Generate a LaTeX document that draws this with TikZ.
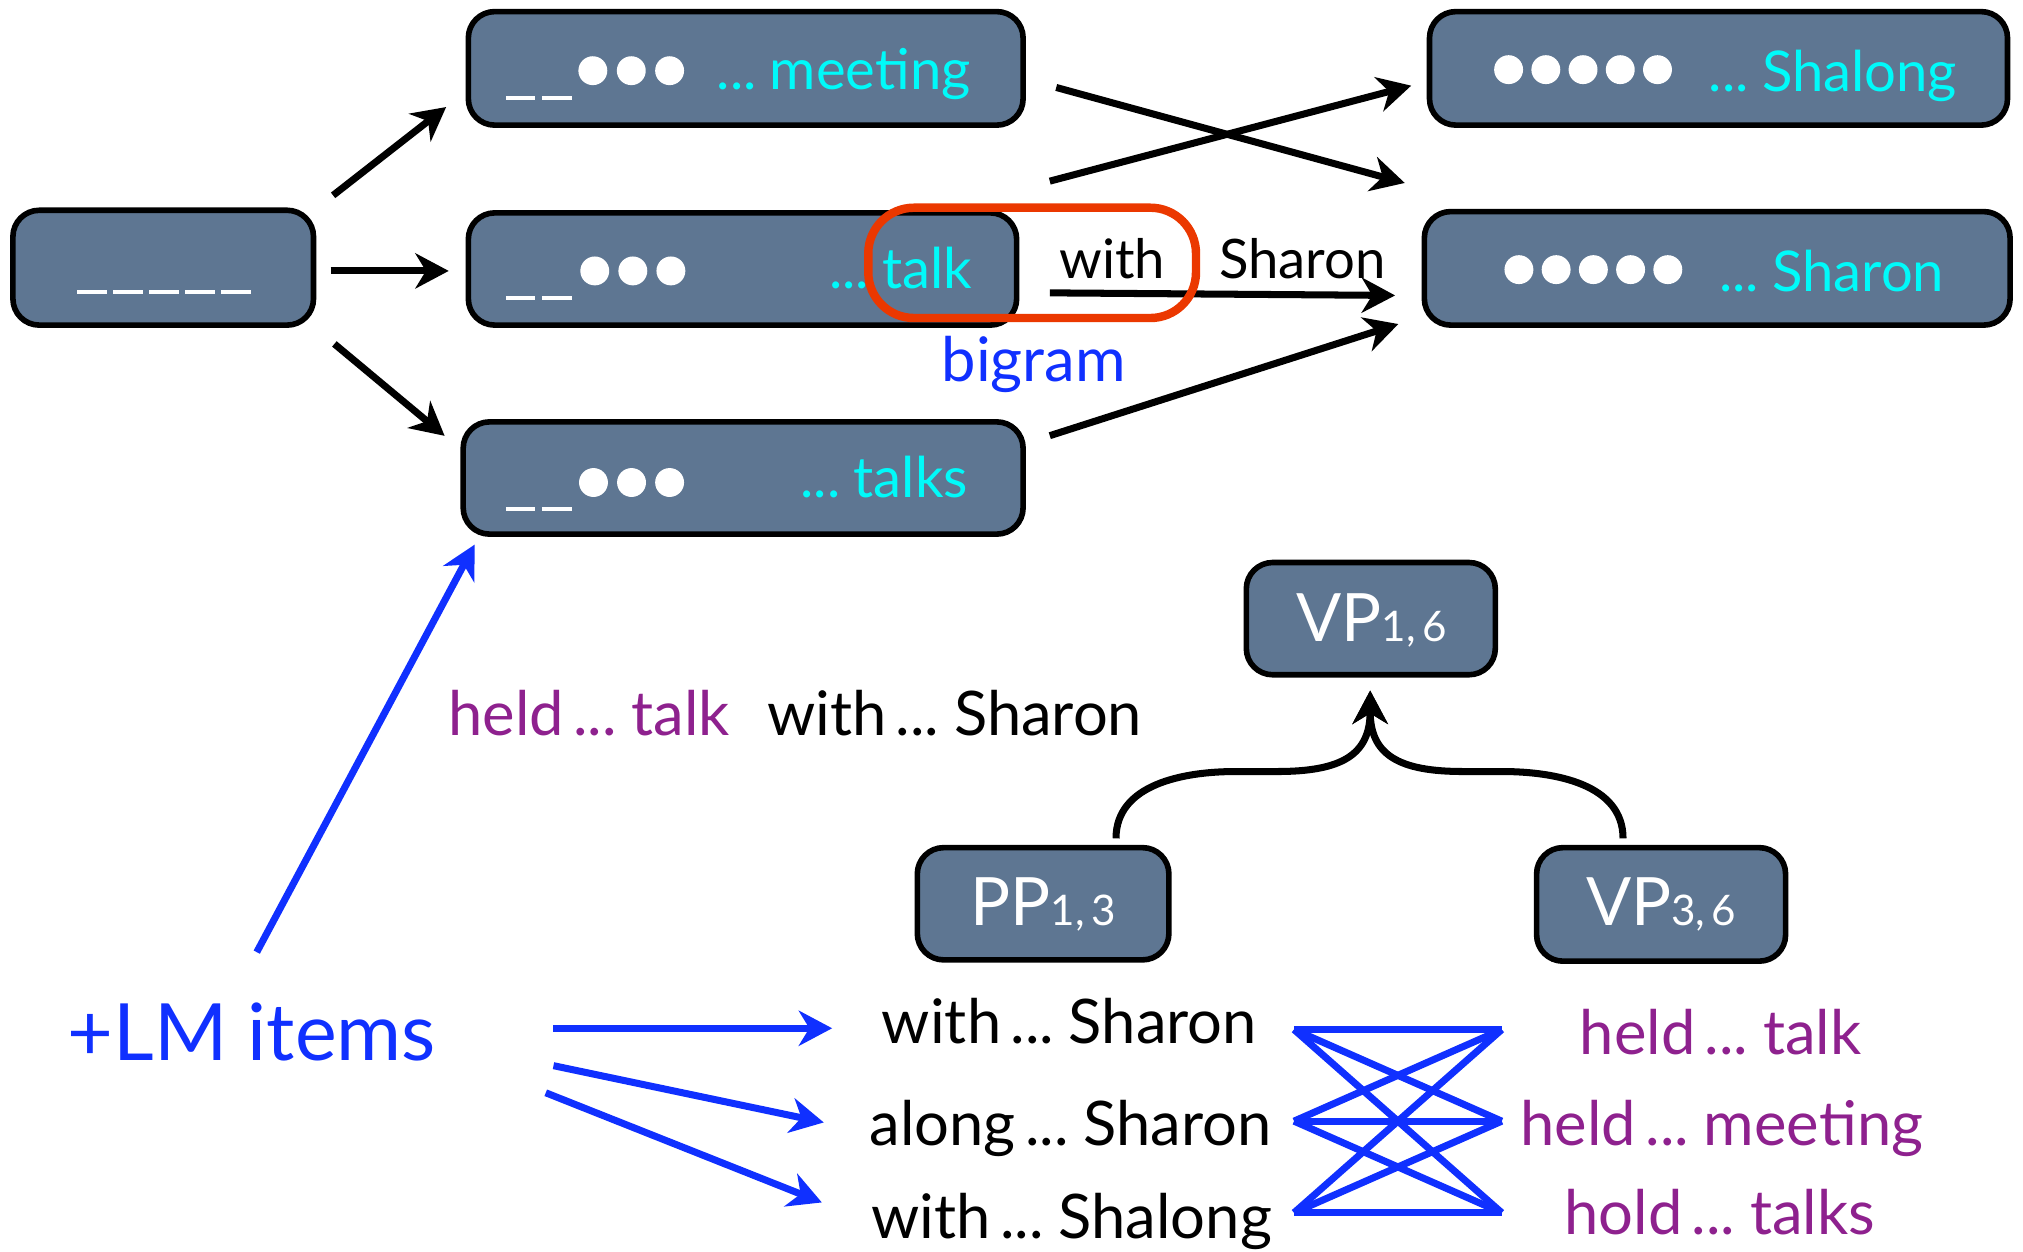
\documentclass[tikz,border=0pt]{standalone}
\usepackage{fontspec}
\setmainfont{Lato}[WordSpace=0.6]
\newfontfamily\lmfont{Lato}
\usetikzlibrary{arrows.meta,calc,fit}
\definecolor{boxfill}{RGB}{94,118,146}
\definecolor{cyantext}{RGB}{0,250,250}
\definecolor{purp}{RGB}{142,33,142}
\definecolor{lmblue}{RGB}{16,48,255}
\definecolor{redring}{RGB}{235,56,0}
\begin{document}
\begin{tikzpicture}[x=0.012902cm,y=-0.012902cm,
  box/.style={draw=black, line width=1.6pt, fill=boxfill, rounded corners=7.5pt, inner sep=0pt, fit={#1}},
  arr/.style={-{Stealth[length=9.5pt,width=10pt,inset=3pt]}, line width=2pt, black},
  barr/.style={-{Stealth[length=9.5pt,width=10pt,inset=3pt]}, line width=2pt, lmblue},
  bline/.style={line width=2pt, lmblue},
  cy/.style={text=cyantext, font=\fontsize{16}{19}\selectfont, anchor=base west, inner sep=0pt},
  txt/.style={font=\fontsize{17.5}{21}\selectfont, anchor=base west, inner sep=0pt},
  wtxt/.style={text=white, font=\fontsize{19}{22}\selectfont, anchor=base, inner sep=0pt},
  wdash/.style={draw=white, line width=1.15pt},
  wdot/.style={fill=white}
]
\useasboundingbox (0,0) rectangle (1568,970);

% ---- boxes ----
\node[box={(10,163) (243,252)}] (L) {};
\node[box={(363,9) (793,97)}] (M) {};
\node[box={(363,165) (788,252)}] (T) {};
\node[box={(359,327) (793,414)}] (Ts) {};
\node[box={(1108,9) (1556,97)}] (SL) {};
\node[box={(1104,164) (1558,252)}] (SR) {};
\node[box={(966,436) (1159,523)}] (VPa) {};
\node[box={(711,657) (906,744)}] (PPa) {};
\node[box={(1191,657) (1384,745)}] (VPb) {};

% ---- white dashes ----
\foreach \i in {0,...,4} \draw[wdash] (60+27.9*\i,226.5) -- (83.3+27.9*\i,226.5);
\foreach \yy in {76,231,394.5} {
  \draw[wdash] (392,\yy) -- (415,\yy);
  \draw[wdash] (420,\yy) -- (443,\yy);
}
% ---- white dots ----
\foreach \xx in {459.5,489.3,519} \fill[wdot] (\xx,54.8) circle[radius=11.2];
\foreach \xx in {461,490.5,520} \fill[wdot] (\xx,210) circle[radius=11.2];
\foreach \xx in {460,489.5,519} \fill[wdot] (\xx,374) circle[radius=11.2];
\foreach \i in {0,...,4} \fill[wdot] (1169.3+28.85*\i,54) circle[radius=11.2];
\foreach \i in {0,...,4} \fill[wdot] (1177.3+28.85*\i,209) circle[radius=11.2];

% ---- cyan texts ----
\node[cy] (tm) at (555,69) {... meeting};
\node[cy] (tt) at (642,224) {... talk};
\node[cy] (tts) at (620,386) {... talks};
\node[cy] (tsl) at (1324,70.6) {... Shalong};
\node[cy] (tsr) at (1332,225.6) {... Sharon};

% ---- category labels ----
\node[wtxt] (lVPa) at (1063,497.6) {VP{\fontsize{12}{14}\selectfont 1, 6}};
\node[wtxt] (lPPa) at (808.5,717) {PP{\fontsize{12}{14}\selectfont 1, 3}};
\node[wtxt] (lVPb) at (1287.5,717) {VP{\fontsize{12}{14}\selectfont 3, 6}};

% ---- texts near red ring ----
\node[txt, font=\fontsize{15.5}{18}\selectfont] (with) at (820.6,216) {with};
\node[txt, font=\fontsize{15.5}{18}\selectfont] (sharon) at (944.4,216) {Sharon};
\node[txt, text=lmblue] (bigram) at (729.4,296) {bigram};

% ---- middle texts ----
\node[txt, text=purp] (heldtalk) at (347,570) {held ... talk};
\node[txt] (withsharon) at (594,570) {with ... Sharon};
\node[txt, text=lmblue, font=\lmfont\fontsize{22.5}{26}\selectfont] (lm) at (52,822) {+LM items};

% ---- bottom texts ----
\node[txt] (w1) at (683,809) {with ... Sharon};
\node[txt] (w2) at (673.5,888) {along ... Sharon};
\node[txt] (w3) at (675,960) {with ... Shalong};
\node[txt, text=purp] (h1) at (1224,817.5) {held ... talk};
\node[txt, text=purp] (h2) at (1178,888) {held ... meeting};
\node[txt, text=purp] (h3) at (1212,956.5) {hold ... talks};

% ---- black arrows ----
\draw[arr] ($(L.north east)+(13,-9.4)$) -- ($(M.south west)+(-15,-16.2)$);
\draw[arr] ($(L.east)+(11,2.5)$) -- ($(T.west)+(-13,1.5)$);
\draw[arr] ($(L.south east)+(14,12.4)$) -- ($(Ts.north west)+(-12.2,13)$);
\draw[arr] ($(M.east)+(23.5,14.8)$) -- ($(SR.north west)+(-13,-20)$);
\draw[arr] ($(T.north east)+(23.5,-22.4)$) -- ($(SL.west)+(-12,13.4)$);
\draw[arr] ($(T.east)+(23.5,18.5)$) -- ($(SR.west)+(-20.5,21)$);
\draw[arr] ($(Ts.east)+(18.5,-32.8)$) -- ($(SR.south west)+(-18,-3)$);

% ---- red ring ----
\draw[redring, line width=2.4pt, rounded corners=13pt] (673,161) rectangle (927,246.5);

% ---- blue arrows ----
\draw[barr] ($(lm.base west)+(147,-84)$) -- ($(Ts.south west)+(11,6)$);
\draw[barr] ($(lm.base west)+(377,-25)$) -- ($(w1.base west)+(-38,-12)$);
\draw[barr] ($(lm.base west)+(377,4)$) -- ($(w2.base west)+(-35,-18)$);
\draw[barr] ($(lm.base west)+(371,25)$) -- ($(w3.base west)+(-38,-28)$);

% ---- complete bipartite links ----
\coordinate (l1) at (1003,798);
\coordinate (l2) at (1003,869);
\coordinate (l3) at (1003,940);
\coordinate (r1) at (1164,798);
\coordinate (r2) at (1164,869);
\coordinate (r3) at (1164,940);
\foreach \a in {l1,l2,l3} \foreach \b in {r1,r2,r3} \draw[bline] (\a) -- (\b);

% ---- tree arcs ----
\draw[arr] ($(PPa.north)+(56.5,-5)$) to[out=90,in=180] (958,598) -- (990,598)
   .. controls (1040,598) and (1062,585) .. ($(VPa.south)+(-0.5,10)$);
\draw[arr] ($(VPb.north)+(-29.5,-5)$) to[out=90,in=0] (1164,598) -- (1134,598)
   .. controls (1084,598) and (1062,585) .. ($(VPa.south)+(-0.5,10)$);
\end{tikzpicture}
\end{document}
